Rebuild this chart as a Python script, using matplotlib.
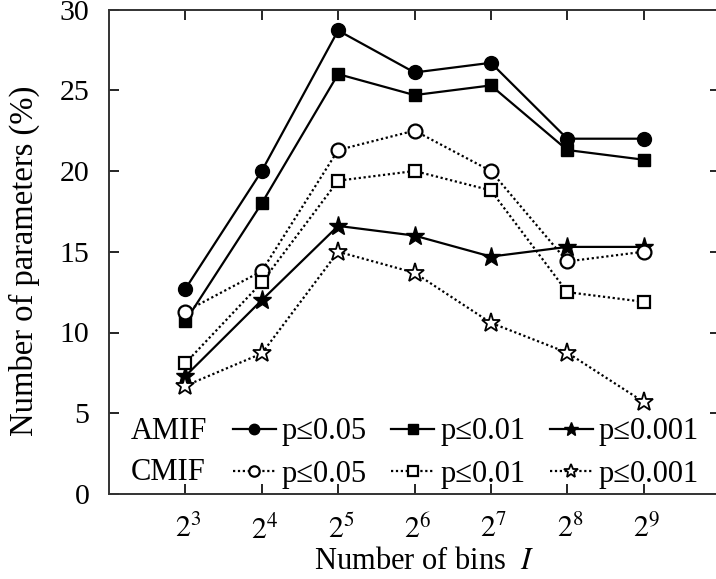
import matplotlib
matplotlib.use("Agg")
import matplotlib.pyplot as plt
from matplotlib.transforms import ScaledTranslation

plt.rcParams['font.family'] = ['Liberation Serif', 'DejaVu Serif']
plt.rcParams['mathtext.fontset'] = 'stix'

exponents = [3, 4, 5, 6, 7, 8, 9]
tick_labels = [f'$2^{{{e}}}$' for e in exponents]

amif_p05 = [12.7, 20.0, 28.7, 26.1, 26.7, 22.0, 22.0]
amif_p01 = [10.7, 18.0, 26.0, 24.7, 25.3, 21.3, 20.7]
amif_p001 = [7.3, 12.0, 16.6, 16.0, 14.7, 15.3, 15.3]
cmif_p05 = [11.3, 13.8, 21.3, 22.5, 20.0, 14.4, 15.0]
cmif_p01 = [8.1, 13.1, 19.4, 20.0, 18.8, 12.5, 11.9]
cmif_p001 = [6.7, 8.7, 15.0, 13.7, 10.6, 8.75, 5.7]

series_labels = ['p≤0.05', 'p≤0.01', 'p≤0.001']

fig = plt.figure(figsize=(7.16, 5.79), dpi=100)
ax = fig.add_axes([109/716, 1-494/579, 611/716, (494-9.5)/579])

solid = dict(color='black', lw=1.6, ls='-')
dotted = dict(color='black', lw=1.6, ls=(0, (1, 1.2)))

h1, = ax.plot(exponents, amif_p05, marker='o', ms=10, mfc='black', mec='black', **solid)
h2, = ax.plot(exponents, amif_p01, marker='s', ms=9, mfc='black', mec='black', **solid)
h3, = ax.plot(exponents, amif_p001, marker='*', ms=14, mfc='black', mec='black', **solid)
h4, = ax.plot(exponents, cmif_p05, marker='o', ms=10, mfc='white', mec='black', mew=1.6, **dotted)
h5, = ax.plot(exponents, cmif_p01, marker='s', ms=9, mfc='white', mec='black', mew=1.6, **dotted)
h6, = ax.plot(exponents, cmif_p001, marker='*', ms=14, mfc='white', mec='black', mew=1.3, **dotted)

ax.set_xlim(2, 10)
ax.set_ylim(0, 30)
ax.set_xticks(exponents)
ax.set_xticklabels(tick_labels)
ax.set_yticks([0, 5, 10, 15, 20, 25, 30])
ax.tick_params(direction='in', length=7, width=1.2, top=True, right=True,
               labelsize=21.5)
ax.tick_params(axis='x', pad=15)
ax.tick_params(axis='y', pad=14)
offset = ScaledTranslation(3/100, 0, fig.dpi_scale_trans)
for lab in ax.get_xticklabels():
    lab.set_transform(lab.get_transform() + offset)
for s in ax.spines.values():
    s.set_linewidth(1.4)
    s.set_color('#333333')

ax.set_xlabel('Number of bins  $\\mathit{I}$', fontsize=22)
ax.xaxis.set_label_coords(0.5155, -0.110)
ax.set_ylabel('Number of parameters (%)', fontsize=23.5)
ax.yaxis.set_label_coords(-0.113, 0.481)

ax.text(0.036, 0.128, 'AMIF', transform=ax.transAxes, fontsize=22, va='center', ha='left')
ax.text(0.036, 0.045, 'CMIF', transform=ax.transAxes, fontsize=22, va='center', ha='left')

leg = ax.legend([h1, h4, h2, h5, h3, h6],
                [series_labels[0], series_labels[0], series_labels[1], series_labels[1],
                 series_labels[2], series_labels[2]],
                ncol=3, loc='center left', bbox_to_anchor=(0.203, 0.084),
                frameon=False, fontsize=22, handlelength=1.4, handletextpad=0.2,
                columnspacing=0.8, labelspacing=0.45, borderpad=0, borderaxespad=0,
                markerscale=0.75)

fig.savefig('out.png', dpi=100)
